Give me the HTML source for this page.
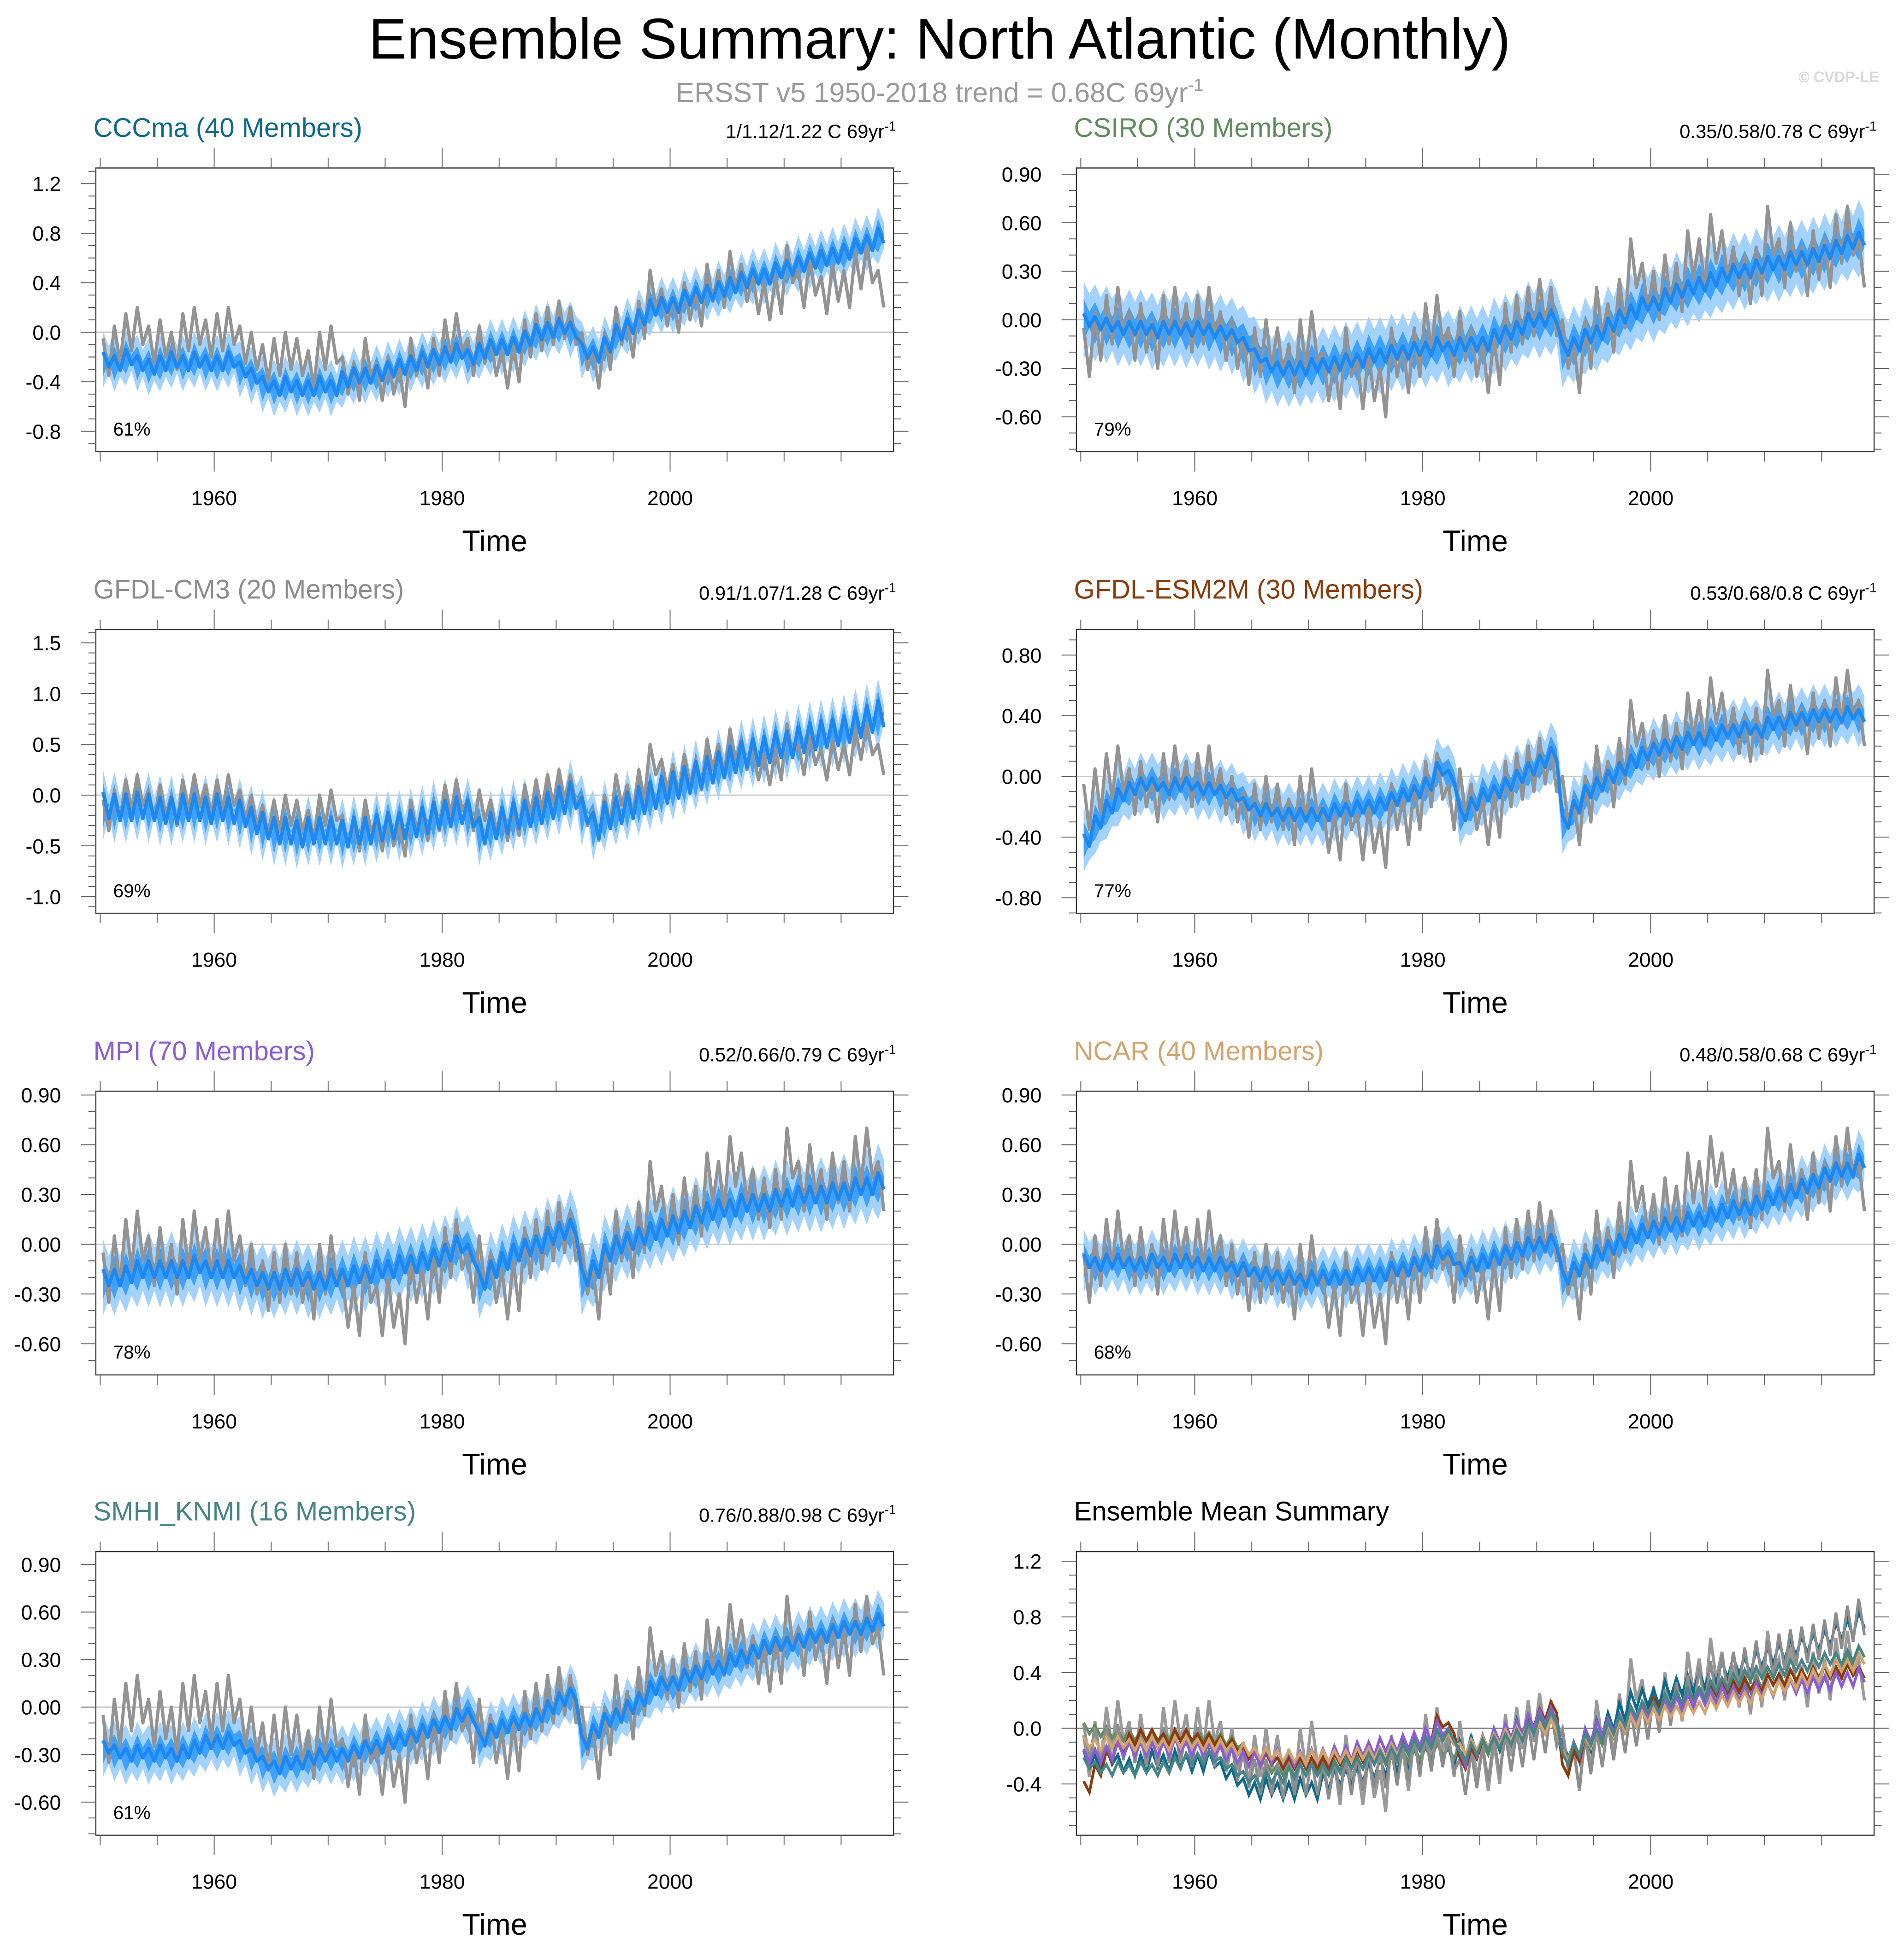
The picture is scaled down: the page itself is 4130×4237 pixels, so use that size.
<!DOCTYPE html>
<html><head><meta charset="utf-8"><style>
html,body{margin:0;padding:0;background:#fff;}
svg{display:block;font-family:"Liberation Sans",Arial,sans-serif;}
</style></head><body>
<svg id="fig" width="4130" height="4237" viewBox="0 0 1530 1569.6" xmlns="http://www.w3.org/2000/svg">
<rect x="0" y="0" width="1530" height="1569.6" fill="#fff"/>
<text x="755" y="47" font-size="46" text-anchor="middle" fill="#000">Ensemble Summary: North Atlantic (Monthly)</text>
<text x="755" y="82" font-size="22.5" text-anchor="middle" fill="#9a9a9a">ERSST v5 1950-2018 trend = 0.68C 69yr<tspan dy="-9" font-size="14">-1</tspan></text>
<text x="1510" y="66" font-size="12" text-anchor="end" fill="#d8d8d8" font-weight="bold">© CVDP-LE</text>
<g id="panels"></g>
</svg>
<script>
const obs = [-0.2,-0.1,0.0,0.05,-0.1,-0.05,-0.15,0.0,0.05,-0.05,
0.0,0.05,-0.1,-0.15,-0.25,-0.2,-0.15,-0.2,-0.3,-0.15,
-0.1,-0.35,-0.4,-0.2,-0.4,-0.35,-0.45,-0.2,-0.3,-0.2,
-0.05,0.0,-0.2,-0.1,-0.2,-0.3,-0.25,-0.05,0.0,0.05,
0.1,0.05,-0.15,-0.3,-0.15,0.05,-0.05,0.1,0.35,0.2,
0.15,0.25,0.2,0.4,0.35,0.5,0.4,0.3,0.25,0.3,
0.55,0.35,0.45,0.3,0.4,0.35,0.5,0.55,0.35];
const obsAmp = 0.15;
const cccma = [-0.22,-0.25,-0.2,-0.25,-0.28,-0.25,-0.22,-0.25,-0.22,-0.25,
-0.25,-0.22,-0.3,-0.35,-0.42,-0.45,-0.42,-0.45,-0.45,-0.42,
-0.45,-0.38,-0.35,-0.35,-0.33,-0.3,-0.28,-0.25,-0.22,-0.2,
-0.18,-0.15,-0.2,-0.15,-0.12,-0.12,-0.1,-0.05,0.0,0.02,
0.05,0.02,-0.15,-0.18,-0.1,0.0,0.05,0.12,0.2,0.22,
0.22,0.28,0.3,0.32,0.35,0.38,0.42,0.45,0.45,0.5,
0.52,0.55,0.58,0.6,0.62,0.65,0.7,0.72,0.78];
const csiro = [0.0,-0.02,-0.03,-0.05,-0.05,-0.05,-0.07,-0.05,-0.05,-0.06,
-0.05,-0.07,-0.08,-0.1,-0.15,-0.22,-0.28,-0.3,-0.3,-0.3,
-0.28,-0.28,-0.27,-0.25,-0.25,-0.22,-0.22,-0.2,-0.2,-0.18,
-0.18,-0.15,-0.18,-0.15,-0.15,-0.15,-0.1,-0.08,-0.05,0.0,
0.0,0.02,-0.18,-0.15,-0.1,-0.08,-0.03,0.02,0.05,0.1,
0.1,0.15,0.18,0.2,0.22,0.25,0.28,0.3,0.3,0.33,
0.35,0.35,0.38,0.38,0.4,0.42,0.45,0.48,0.5];
const gfdlcm3 = [-0.1,-0.12,-0.12,-0.1,-0.12,-0.15,-0.15,-0.12,-0.12,-0.15,
-0.12,-0.15,-0.18,-0.25,-0.3,-0.35,-0.35,-0.38,-0.35,-0.35,
-0.35,-0.38,-0.35,-0.35,-0.32,-0.3,-0.3,-0.28,-0.25,-0.2,
-0.18,-0.15,-0.18,-0.35,-0.3,-0.25,-0.2,-0.18,-0.15,-0.1,
-0.05,0.0,-0.15,-0.3,-0.2,-0.15,-0.1,-0.05,0.0,0.05,
0.1,0.15,0.2,0.25,0.3,0.35,0.4,0.42,0.45,0.5,
0.5,0.55,0.58,0.6,0.62,0.65,0.7,0.75,0.8];
const gfdlesm = [-0.42,-0.3,-0.2,-0.12,-0.08,-0.05,-0.05,-0.08,-0.05,-0.05,
-0.08,-0.08,-0.1,-0.12,-0.18,-0.22,-0.22,-0.25,-0.25,-0.25,
-0.25,-0.25,-0.22,-0.22,-0.2,-0.2,-0.18,-0.15,-0.12,-0.1,
-0.05,0.05,0.0,-0.25,-0.18,-0.12,-0.1,-0.05,0.0,0.05,
0.1,0.15,-0.3,-0.2,-0.1,-0.05,0.0,0.05,0.1,0.15,
0.18,0.2,0.22,0.25,0.25,0.28,0.3,0.3,0.32,0.3,
0.35,0.35,0.38,0.38,0.4,0.4,0.4,0.42,0.4];
const mpi = [-0.2,-0.2,-0.18,-0.15,-0.15,-0.15,-0.15,-0.15,-0.12,-0.15,
-0.15,-0.15,-0.18,-0.2,-0.22,-0.22,-0.2,-0.2,-0.22,-0.22,
-0.2,-0.2,-0.18,-0.18,-0.15,-0.15,-0.12,-0.12,-0.1,-0.08,
-0.05,0.0,-0.05,-0.22,-0.15,-0.1,-0.05,-0.02,0.0,0.05,
0.08,0.1,-0.2,-0.15,-0.05,0.0,0.02,0.05,0.08,0.1,
0.12,0.15,0.18,0.2,0.22,0.22,0.25,0.25,0.25,0.28,
0.28,0.3,0.3,0.3,0.32,0.32,0.35,0.35,0.38];
const ncar = [-0.1,-0.12,-0.1,-0.1,-0.12,-0.12,-0.1,-0.12,-0.1,-0.1,
-0.12,-0.12,-0.12,-0.15,-0.15,-0.18,-0.18,-0.2,-0.2,-0.22,
-0.2,-0.2,-0.2,-0.2,-0.18,-0.18,-0.18,-0.15,-0.15,-0.12,
-0.1,-0.05,-0.08,-0.15,-0.12,-0.1,-0.08,-0.05,-0.03,0.0,
0.0,0.02,-0.2,-0.15,-0.1,-0.05,-0.02,0.02,0.05,0.08,
0.1,0.12,0.12,0.15,0.15,0.18,0.2,0.22,0.22,0.25,
0.28,0.3,0.32,0.35,0.38,0.42,0.45,0.45,0.5];
const smhi = [-0.25,-0.28,-0.3,-0.28,-0.3,-0.28,-0.3,-0.28,-0.25,-0.22,
-0.22,-0.2,-0.25,-0.3,-0.35,-0.38,-0.35,-0.35,-0.32,-0.3,
-0.3,-0.3,-0.28,-0.25,-0.25,-0.22,-0.2,-0.18,-0.15,-0.12,
-0.1,-0.05,-0.05,-0.2,-0.15,-0.12,-0.1,-0.08,-0.05,0.0,
0.05,0.08,-0.22,-0.15,-0.08,-0.05,0.0,0.05,0.12,0.15,
0.15,0.2,0.22,0.25,0.25,0.3,0.32,0.35,0.38,0.4,
0.4,0.42,0.45,0.45,0.48,0.5,0.5,0.52,0.55];
const seasonalAmp = [0.06,0.04,0.13,0.04,0.05,0.04,0.04];
const spreadWidth = [0.17,0.2,0.22,0.17,0.18,0.15,0.15];
const modelNames = ["CCCma (40 Members)","CSIRO (30 Members)","GFDL-CM3 (20 Members)","GFDL-ESM2M (30 Members)","MPI (70 Members)","NCAR (40 Members)","SMHI_KNMI (16 Members)"];
const trendLabels = ["1/1.12/1.22 C 69yr","0.35/0.58/0.78 C 69yr","0.91/1.07/1.28 C 69yr","0.53/0.68/0.8 C 69yr","0.52/0.66/0.79 C 69yr","0.48/0.58/0.68 C 69yr","0.76/0.88/0.98 C 69yr"];
const pctLabels = ["61%","79%","69%","77%","78%","68%","61%"];
const yTicks = [[-0.8,-0.4,0.0,0.4,0.8,1.2],[-0.6,-0.3,0.0,0.3,0.6,0.9],[-1.0,-0.5,0.0,0.5,1.0,1.5],[-0.8,-0.4,0.0,0.4,0.8],[-0.6,-0.3,0.0,0.3,0.6,0.9],[-0.6,-0.3,0.0,0.3,0.6,0.9],[-0.6,-0.3,0.0,0.3,0.6,0.9],[-0.4,0.0,0.4,0.8,1.2]];
const yTickText = [["-0.8","-0.4","0.0","0.4","0.8","1.2"],["-0.60","-0.30","0.00","0.30","0.60","0.90"],["-1.0","-0.5","0.0","0.5","1.0","1.5"],["-0.80","-0.40","0.00","0.40","0.80"],["-0.60","-0.30","0.00","0.30","0.60","0.90"],["-0.60","-0.30","0.00","0.30","0.60","0.90"],["-0.60","-0.30","0.00","0.30","0.60","0.90"],["-0.4","0.0","0.4","0.8","1.2"]];
const xTickYears = [1960,1980,2000];
const models = [cccma,csiro,gfdlcm3,gfdlesm,mpi,ncar,smhi];
const modelColors = ["#0b6a8c","#5f8c5f","#8c8c8c","#8b3a0a","#8a5cd6","#d2a36c","#468486"];

const layout = [
 [77,135,267,99.5,0.1],[865,135,257,130,0.1],
 [77,506,639,81.6,0.1],[865,506,624,121.9,0.1],
 [77,877,1000,133.3,0.1],[865,877,1000,133.3,0.1],
 [77,1247,1372,127.3,0.1],[865,1247,1389,111.9,0.1]];
const boxW = 641, boxH = 228;
const NS = "http://www.w3.org/2000/svg";
const root = document.getElementById('panels');
function mk(tag, attrs, parent){const e=document.createElementNS(NS,tag);for(const k in attrs)e.setAttribute(k,attrs[k]);(parent||root).appendChild(e);return e;}

layout.forEach((L,p)=>{
  const [left,top,zeroY,ppu,minor]=L;
  const x0 = left+3.5, pxYr = (boxW-9)/69;
  const xs = yr => x0+(yr-1950)*pxYr;
  const ys = v => zeroY - v*ppu;
  const g = mk('g',{});
  
  
  const t = mk('text',{x:left-2,y:top-25,'font-size':21.5,fill:p<7?modelColors[p]:'#000'},g);
  t.textContent = p<7 ? modelNames[p] : 'Ensemble Mean Summary';
  
  
  if(p<7){
    const tr = mk('text',{x:left+boxW+2,y:top-24,'font-size':15.5,'text-anchor':'end',fill:'#000'},g);
    
    
    tr.textContent = trendLabels[p];
    const sup = mk('tspan',{dy:-6,'font-size':10.5},tr); sup.textContent='-1';
  }
  const cid='clip'+p;
  const cp = mk('clipPath',{id:cid},g); mk('rect',{x:left,y:top,width:boxW,height:boxH},cp);
  const plot = mk('g',{'clip-path':'url(#'+cid+')'},g);
  const zl = mk('line',{x1:left,x2:left+boxW,y1:ys(0),y2:ys(0),stroke:p<7?'#c8c8c8':'#777','stroke-width':1},plot);
  
  
  function zig(arr, amp, off){
    const pts=[];
    arr.forEach((v,i)=>{const yr=1950+i;
      pts.push([xs(yr+0.25), ys(v+off+amp)]);
      pts.push([xs(yr+0.75), ys(v+off-amp)]);});
    return pts;
  }
  const toPath = pts => pts.map((q,i)=>(i?'L':'M')+q[0].toFixed(1)+','+q[1].toFixed(1)).join('');
  if(p<7){
    const m = models[p], a = seasonalAmp[p], s = spreadWidth[p];
    const up = zig(m,a,s), lo = zig(m,-a,-s).reverse();
    const band = mk('path',{d:toPath(up.concat(lo))+'Z',fill:'#a3d2ff'},plot);
    
    
    const up2 = zig(m,a,s*0.45), lo2 = zig(m,-a,-s*0.45).reverse();
    const band2 = mk('path',{d:toPath(up2.concat(lo2))+'Z',fill:'#3da2ff'},plot);
    
    
    const ob = mk('path',{d:toPath(zig(obs,obsAmp,0)),fill:'none',stroke:'#939393','stroke-width':2.6,'stroke-linejoin':'round'},plot);
    
    
    const mn = mk('path',{d:toPath(zig(m,a,0)),fill:'none',stroke:'#1e88f0','stroke-width':2.8,'stroke-linejoin':'round'},plot);
    
    
    const pc = mk('text',{x:left+14,y:top+boxH-13,'font-size':15,fill:'#000'},g);
    
    
    pc.textContent = pctLabels[p];
  } else {
    const ob = mk('path',{d:toPath(zig(obs,obsAmp,0)),fill:'none',stroke:'#9a9a9a','stroke-width':2.4},plot);
    
    
    models.forEach((m,k)=>{
      const ln = mk('path',{d:toPath(zig(m,seasonalAmp[k],0)),fill:'none',stroke:modelColors[k],'stroke-width':2.2},plot);
      
      
    });
  }
  const bx = mk('rect',{x:left,y:top,width:boxW,height:boxH,fill:'none',stroke:'#333','stroke-width':0.9},g);
  
  
  const tk = yTicks[p], vmin = (top+boxH-zeroY)/-ppu, vmax=(zeroY-top)/ppu;
  for(let v=Math.ceil(vmin/minor)*minor; v<=vmax+1e-9; v+=minor){
    const yy=ys(v); const isMaj = tk.some(q=>Math.abs(q-v)<1e-6);
    const len = isMaj?12:6;
    mk('line',{x1:left-len,x2:left,y1:yy,y2:yy,stroke:'#555','stroke-width':0.7},g);
    mk('line',{x1:left+boxW,x2:left+boxW+len,y1:yy,y2:yy,stroke:'#555','stroke-width':0.7},g);
  }
  tk.forEach((v,i)=>{
    const lbl = mk('text',{x:left-28,y:ys(v)+6,'font-size':16.5,'text-anchor':'end',fill:'#000'},g);
    
    
    lbl.textContent = yTickText[p][i];
  });
  for(let yr=1950; yr<=2015; yr+=5){
    const xx=xs(yr); const isMaj = xTickYears.includes(yr);
    const len = isMaj?16:8;
    mk('line',{x1:xx,x2:xx,y1:top+boxH,y2:top+boxH+len,stroke:'#555','stroke-width':0.7},g);
    mk('line',{x1:xx,x2:xx,y1:top-len,y2:top,stroke:'#555','stroke-width':0.7},g);
  }
  xTickYears.forEach(yr=>{
    const lbl = mk('text',{x:xs(yr),y:top+boxH+43,'font-size':16.5,'text-anchor':'middle',fill:'#000'},g);
    
    
    lbl.textContent = yr;
  });
  const xt = mk('text',{x:left+boxW/2,y:top+boxH+80,'font-size':24,'text-anchor':'middle',fill:'#000'},g);
  
  
  xt.textContent='Time';
});
</script>
</body></html>
